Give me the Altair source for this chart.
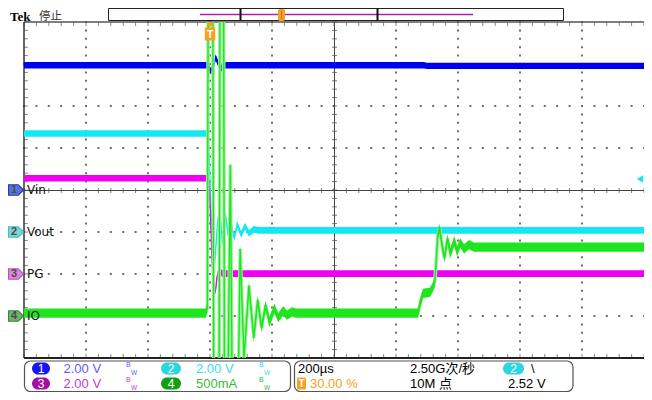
import altair as alt
import numpy as np
import pandas as pd

# ---------------- values ----------------
T_PER_DIV = 200.0          # µs / div  ("200µs")
T_LEFT = -600.0            # trigger at 30 % of 10 divisions
T_RIGHT = 1400.0
TRIG_LEVEL = 2.52          # V, channel 2, falling edge

CH_NUMS = ["1", "2", "3", "4"]
CH_LABELS = ["Vin", "Vout", "PG", "IO"]
CH_PER_DIV = [2.0, 2.0, 2.0, 0.5]
CH_GROUND_DIV = [0.0, -1.0, -2.0, -3.0]
CH_NOISE = [0.15, 0.16, 0.16, 0.055]
CH_SCALE_TEXT = ["2.00 V", "2.00 V", "2.00 V", "500mA"]

VIN_T = [-600, -7.0, 2.5, 10.4, 18.3, 26.2, 34.1, 43.5, 690, 700, 1400]
VIN_V = [5.94, 5.94, 5.66, 5.85, 6.32, 6.03, 5.75, 5.94, 5.94, 5.91, 5.91]

VOUT_T = [-600, -6.9, -2.2, 2.5, 8.8, 15.1, 24.6, 30.9, 40.4, 49.8, 59.3, 65.6,
          78.2, 87.7, 100.3, 112.9, 125.6, 141.3, 157.1, 1400]
VOUT_V = [4.69, 4.69, 3.54, 1.20, -0.99, -1.51, 0.50, 1.11, -0.53, 0.83, -0.20, 0.60,
          -0.29, 0.36, -0.11, 0.27, -0.06, 0.13, 0.08, 0.08]

PG_T = [-600, -6.9, -3.8, -0.6, 2.5, 5.7, 8.8, 14.2, 18.3, 21.4, 24.6, 30.9, 40.4, 1400]
PG_V = [4.56, 4.56, 4.47, 3.67, 2.36, 0.96, -0.07, -0.91, -0.73, -0.30, -0.02, 0.12, 0.02, 0.02]

IO_T = [-600, -13.2, -8.5, -5.4, 8.8, 12.0, 29.3, 32.5, 43.5, 46.7, 57.7, 65.6, 71.9,
        90.9, 97.2, 109.8, 125.6, 141.3, 153.9, 166.6, 179.2, 191.8, 207.6, 220.2,
        236.0, 248.6, 264.4, 277.0, 671.3, 677.6, 687.1, 709.2, 718.6, 724.9, 728.1,
        734.4, 740.7, 750.2, 756.5, 766.0, 775.4, 788.0, 797.5, 807.0, 819.6, 835.3,
        851.1, 1400]
IO_A = [0.035, 0.035, 0.105, 4.5, 4.5, -1.0, -1.0, 4.5, 4.5, -1.0, -1.0, 1.80, -1.0,
        -1.0, 0.80, -0.50, 0.36, -0.26, 0.19, -0.14, 0.13, -0.07, 0.09, -0.02,
        0.06, 0.01, 0.05, 0.035, 0.035, 0.15, 0.27, 0.28, 0.34, 0.40, 0.56,
        0.95, 1.04, 0.81, 0.69, 0.92, 0.75, 0.89, 0.77, 0.87, 0.80, 0.85,
        0.82, 0.82]

HEADER_TEXT = ["Tek", "停止"]
TIMEBASE_TEXT = "200µs"
SAMPLE_TEXT = ["2.50G次/秒", "10M 点"]
TRIG_POS_TEXT = "30.00 %"
TRIG_LEVEL_TEXT = "2.52 V"

# ---------------- styles ----------------
W, H = 620, 336
SANS = "Liberation Sans, Noto Sans CJK SC"
TRACE_COLORS = ["#0000f0", "#12e8f2", "#f000f0", "#1ee61e"]
MARKER_FILL = ["#5876d0", "#80d4d6", "#d88ad8", "#70b070"]
MARKER_EDGE = ["#2236c8", "#3cbfc4", "#c050c0", "#3a8a3a"]
BADGE_FILL = ["#1616f2", "#2cd6de", "#a012a0", "#12a012"]
TEXT_COLORS = ["#5c5cff", "#3cdcea", "#c43cc4", "#3cb83c"]
ORANGE = "#f5a020"
FLAG = "M-1,-0.7 L0.3,-0.7 L1,0 L0.3,0.7 L-1,0.7 Z"
TBOX = "M-0.8,-1 L0.8,-1 L0.8,1 L-0.8,1 Z"

xs = alt.Scale(domain=[T_LEFT, T_RIGHT], nice=False, zero=False)
ys = alt.Scale(domain=[-4, 4], nice=False, zero=False)


def X(f):
    return alt.X(f, type="quantitative", scale=xs, axis=None)


def Y(f):
    return alt.Y(f, type="quantitative", scale=ys, axis=None)


def XD(v):
    return alt.XDatum(v, type="quantitative", scale=xs, axis=None)


def YD(v):
    return alt.YDatum(v, type="quantitative", scale=ys, axis=None)


ONE = pd.DataFrame({"k": [0]})


def px_text(s, x, y, size=14, color="#000", weight="normal", font=SANS,
            align="left", baseline="middle"):
    return alt.Chart(ONE).mark_text(text=s, fontSize=size, color=color, fontWeight=weight,
                                    font=font, align=align, baseline=baseline).encode(
        x=alt.value(x), y=alt.value(y))


def px_rect(x, x2, y, y2, fill, stroke=None, sw=1.0, r=0):
    kw = dict(fill=fill, cornerRadius=r)
    if stroke:
        kw.update(stroke=stroke, strokeWidth=sw)
    return alt.Chart(ONE).mark_rect(**kw).encode(
        x=alt.value(x), x2=alt.value(x2), y=alt.value(y), y2=alt.value(y2))


def px_hrule(x, x2, y, color, w=1.0):
    return alt.Chart(ONE).mark_rule(color=color, strokeWidth=w).encode(
        x=alt.value(x), x2=alt.value(x2), y=alt.value(y))


def px_vrule(x, y, y2, color, w=1.0):
    return alt.Chart(ONE).mark_rule(color=color, strokeWidth=w).encode(
        x=alt.value(x), y=alt.value(y), y2=alt.value(y2))


layers = []

# ---------------- graticule ----------------
grid_t = [T_LEFT + k * T_PER_DIV for k in range(1, 10) if k != 5]
grid_d = [d for d in range(-3, 4) if d != 0]
minor_t = np.arange(T_LEFT, T_RIGHT + 1e-6, T_PER_DIV / 5)
minor_d = np.round(np.arange(-4, 4.0001, 0.2), 3)
t_center = (T_LEFT + T_RIGHT) / 2

dots_v = pd.DataFrame([(t, d) for t in grid_t for d in minor_d], columns=["t", "d"])
dots_h = pd.DataFrame([(t, d) for d in grid_d for t in minor_t], columns=["t", "d"])
for dots in (dots_v, dots_h):
    layers.append(alt.Chart(dots).mark_square(size=4, color="#6e6e6e", opacity=1,
                                              filled=True).encode(
        x=X("t"), y=Y("d")))

# centre cross with minor ticks
layers.append(alt.Chart(ONE).mark_rule(color="#444", strokeWidth=1, xOffset=0.5).encode(x=XD(t_center)))
layers.append(alt.Chart(ONE).mark_rule(color="#444", strokeWidth=1, yOffset=0.5).encode(y=YD(0)))
layers.append(alt.Chart(pd.DataFrame({"t": minor_t})).mark_tick(
    orient="vertical", size=5, thickness=1, color="#444", yOffset=0.5).encode(x=X("t"), y=YD(0)))
layers.append(alt.Chart(pd.DataFrame({"d": minor_d})).mark_tick(
    orient="horizontal", size=5, thickness=1, color="#444", xOffset=0.5).encode(y=Y("d"), x=XD(t_center)))
# frame with inner ticks
layers.append(alt.Chart(pd.DataFrame({"t": minor_t})).mark_tick(
    orient="vertical", size=4, thickness=1, color="#555", yOffset=2).encode(x=X("t"), y=YD(4)))
layers.append(alt.Chart(pd.DataFrame({"t": minor_t})).mark_tick(
    orient="vertical", size=4, thickness=1, color="#555", yOffset=-2).encode(x=X("t"), y=YD(-4)))
layers.append(alt.Chart(pd.DataFrame({"d": minor_d})).mark_tick(
    orient="horizontal", size=4, thickness=1, color="#555", xOffset=2).encode(y=Y("d"), x=XD(T_LEFT)))
layers.append(alt.Chart(ONE).mark_rule(color="#555", strokeWidth=1.5).encode(y=YD(4)))
layers.append(alt.Chart(ONE).mark_rule(color="#222", strokeWidth=2).encode(y=YD(-4)))
layers.append(alt.Chart(ONE).mark_rule(color="#333", strokeWidth=1.5).encode(x=XD(T_LEFT)))

# ---------------- traces ----------------
series = [(VIN_T, VIN_V), (VOUT_T, VOUT_V), (PG_T, PG_V), (IO_T, IO_A)]
for k, (tt, vv) in enumerate(series):
    pos = np.array(vv, dtype=float) / CH_PER_DIV[k] + CH_GROUND_DIV[k]
    half = CH_NOISE[k] / CH_PER_DIV[k]
    df = pd.DataFrame({"t": tt, "pos": pos, "lo": pos - half, "hi": pos + half})
    c = TRACE_COLORS[k]
    if k == 3:
        layers.append(alt.Chart(df).mark_line(color="#9cf09c", strokeWidth=3.5, clip=True).encode(
            x=X("t"), y=Y("pos")))
    layers.append(alt.Chart(df).mark_area(color=c, opacity=1, clip=True).encode(
        x=X("t"), y=Y("lo"), y2=alt.Y2("hi")))
    layers.append(alt.Chart(df).mark_line(color=c, strokeWidth=1.3, clip=True).encode(
        x=X("t"), y=Y("pos")))

# ---------------- channel ground markers ----------------
mk = pd.DataFrame({"num": CH_NUMS, "label": CH_LABELS, "g": CH_GROUND_DIV,
                   "fill": MARKER_FILL, "edge": MARKER_EDGE})
layers.append(alt.Chart(mk).mark_point(shape=FLAG, size=225, filled=True, opacity=1,
                                       strokeWidth=1.2).encode(
    x=alt.value(-8), y=Y("g"), fill=alt.Fill("fill:N", scale=None),
    stroke=alt.Stroke("edge:N", scale=None)))
layers.append(alt.Chart(mk).mark_text(fontSize=11, fontWeight="bold", color="#4a4a4a",
                                      font=SANS, align="center", baseline="middle").encode(
    x=alt.value(-10), y=Y("g"), text="num:N"))
layers.append(alt.Chart(mk).mark_text(fontSize=12, color="#111", font="DejaVu Sans",
                                      align="left", baseline="middle").encode(
    x=alt.value(3), y=Y("g"), text="label:N"))

# trigger level marker (right edge) and trigger position marker (top)
layers.append(alt.Chart(ONE).mark_point(shape="triangle-left", filled=True, size=55, opacity=1,
                                        color=TRACE_COLORS[1]).encode(
    x=alt.value(W - 4), y=YD(TRIG_LEVEL / CH_PER_DIV[1] + CH_GROUND_DIV[1])))
layers.append(alt.Chart(ONE).mark_point(shape="triangle-down", filled=True, size=45, opacity=1,
                                        color=ORANGE).encode(x=XD(0), y=alt.value(3)))
layers.append(alt.Chart(ONE).mark_point(shape=TBOX, filled=True, size=170, opacity=1,
                                        color=ORANGE).encode(x=XD(0), y=alt.value(12)))
layers.append(alt.Chart(ONE).mark_text(text="T", fontSize=11, fontWeight="bold", color="white",
                                       font=SANS, align="center", baseline="middle").encode(
    x=XD(0), y=alt.value(12.5)))

# ---------------- header ----------------
layers.append(px_text(HEADER_TEXT[0], -14, -5.5, size=13, weight="bold",
                      font="Liberation Serif"))
layers.append(px_text(HEADER_TEXT[1], 15, -5.5, size=11.5, color="#333",
                      font="Noto Sans CJK SC"))
layers.append(px_rect(84.5, 539.5, -13.5, -1.5, fill="white", stroke="#222", sw=1))
layers.append(px_hrule(176, 449, -7.5, "#b020b0", 1.5))
layers.append(px_vrule(216.5, -13.5, -1.5, "#111", 2))
layers.append(px_vrule(353.5, -13.5, -1.5, "#111", 2))
layers.append(px_rect(254, 261, -13, -1, fill=ORANGE, r=2))
layers.append(px_vrule(257.5, -11, -3, "#d07a00", 1))

# ---------------- status bar ----------------
ROW_Y = [346.5, 361.5]
FS = 13
layers.append(px_rect(0.5, 266.5, 339, 369.5, fill="white", stroke="#555", sw=1.2, r=6))
layers.append(px_rect(270.5, 549, 339, 369.5, fill="white", stroke="#555", sw=1.2, r=6))
COL_BADGE = [(8, 26), (137, 157)]
COL_TEXT = [39.5, 172]
COL_BW = [102, 235]
for k in range(4):
    col, row = k % 2, k // 2
    y = ROW_Y[row]
    layers.append(px_rect(COL_BADGE[col][0], COL_BADGE[col][1], y - 6, y + 6,
                          fill=BADGE_FILL[k], r=6))
    layers.append(px_text(CH_NUMS[k], (COL_BADGE[col][0] + COL_BADGE[col][1]) / 2, y + 0.5,
                          size=12, color="white", align="center"))
    layers.append(px_text(CH_SCALE_TEXT[k], COL_TEXT[col], y, size=FS, color=TEXT_COLORS[k]))
    layers.append(px_text("B", COL_BW[col], y - 3.5, size=7, color=TEXT_COLORS[k]))
    layers.append(px_text("W", COL_BW[col] + 5, y + 4, size=6.5, color=TEXT_COLORS[k]))

layers.append(px_text(TIMEBASE_TEXT, 274, ROW_Y[0], size=FS))
layers.append(px_text(SAMPLE_TEXT[0], 386, ROW_Y[0], size=FS))
layers.append(px_text(SAMPLE_TEXT[1], 386, ROW_Y[1], size=FS))
layers.append(px_rect(479, 500, ROW_Y[0] - 6, ROW_Y[0] + 6, fill=BADGE_FILL[1], r=6))
layers.append(px_text(CH_NUMS[1], 489.5, ROW_Y[0] + 0.5, size=12, color="white", align="center"))
layers.append(px_text("\\", 507, ROW_Y[0], size=FS))
layers.append(px_text(TRIG_LEVEL_TEXT, 484, ROW_Y[1], size=FS))
layers.append(px_rect(273, 282, ROW_Y[1] - 6, ROW_Y[1] + 6, fill=ORANGE, r=1.5))
layers.append(px_text("T", 277.5, ROW_Y[1] + 0.5, size=10, weight="bold", color="white", align="center"))
layers.append(px_text(TRIG_POS_TEXT, 286, ROW_Y[1], size=FS, color=ORANGE))

chart = alt.layer(*layers).properties(
    width=W, height=H,
    padding={"left": 16, "top": 14, "right": 0, "bottom": 34},
    autosize=alt.AutoSizeParams(type="none"),
    background="white",
).configure_view(stroke=None)

chart.save("out.html", embed_options={"renderer": "svg", "actions": False})
